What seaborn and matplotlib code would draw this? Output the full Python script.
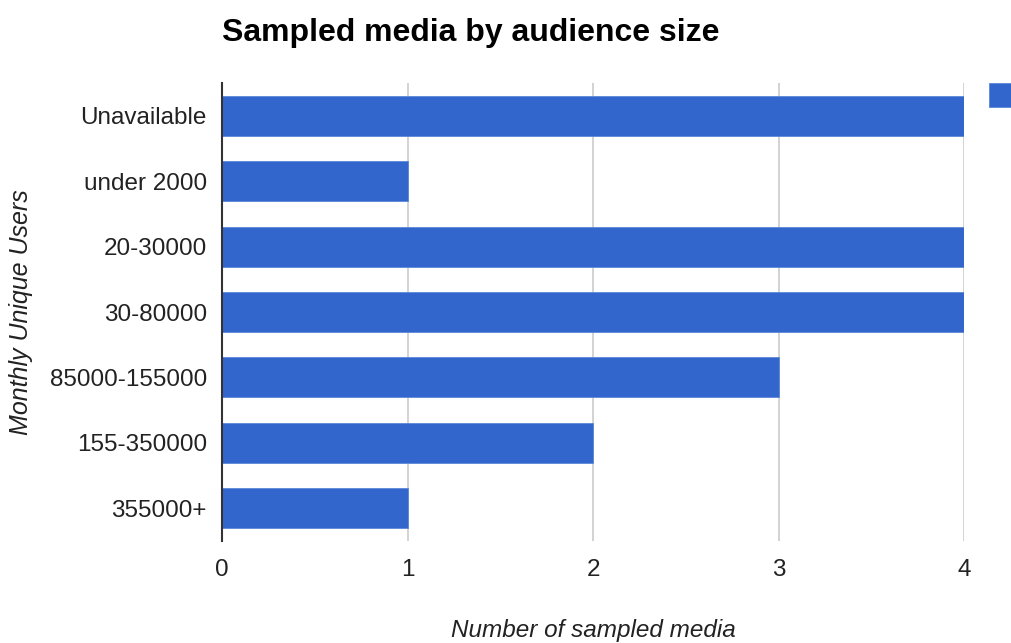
import pandas as pd
import seaborn as sns
import matplotlib.pyplot as plt
from matplotlib.patches import Rectangle

# Chart data
categories = ['Unavailable', 'under 2000', '20-30000', '30-80000',
              '85000-155000', '155-350000', '355000+']
counts = [4, 1, 4, 4, 3, 2, 1]
x_ticks = [0, 1, 2, 3, 4]

bar_color = '#3366CC'

sns.set_style('white')
plt.rcParams['font.family'] = ['Liberation Sans', 'DejaVu Sans']

df = pd.DataFrame({'category': categories, 'count': counts})

fig = plt.figure(figsize=(10.12, 6.43), dpi=100)
ax = fig.add_axes([0.2194, 0.1586, 0.7332, 0.7123])

sns.barplot(data=df, x='count', y='category', order=categories,
            color=bar_color, saturation=1, width=0.61,
            edgecolor='#5a86d8', linewidth=0.6, ax=ax, zorder=3)

ax.set_xlim(0, 4)
ax.set_xticks(x_ticks)
ax.set_ylim(len(categories) - 0.5, -0.5)

# grid and spines
ax.grid(axis='x', color='#cccccc', linewidth=1.2, zorder=0)
ax.set_axisbelow(True)
for side in ['top', 'right', 'bottom']:
    ax.spines[side].set_visible(False)
ax.spines['left'].set_color('#333333')
ax.spines['left'].set_linewidth(1.5)
ax.spines['left'].set_zorder(5)

ax.tick_params(axis='x', length=0, pad=13, labelsize=17.5, labelcolor='#222222')
ax.tick_params(axis='y', length=0, pad=11, labelsize=17.5, labelcolor='#222222')

ax.set_xlabel('Number of sampled media', fontsize=17.5, style='italic',
              color='#222222', labelpad=27)
ax.set_ylabel('Monthly Unique Users', fontsize=18, style='italic',
              color='#222222', labelpad=12)

fig.text(0.2194, 0.948, 'Sampled media by audience size', fontsize=23,
         fontweight='bold', color='#000000', ha='left', va='center')

# legend swatch (cut off at right edge)
fig.patches.append(Rectangle((989 / 1012, 1 - 107 / 643), 30 / 1012, 24 / 643,
                             transform=fig.transFigure, facecolor=bar_color,
                             edgecolor='#5a86d8', linewidth=0.6))

fig.savefig('out.png', dpi=100)
plt.close(fig)
